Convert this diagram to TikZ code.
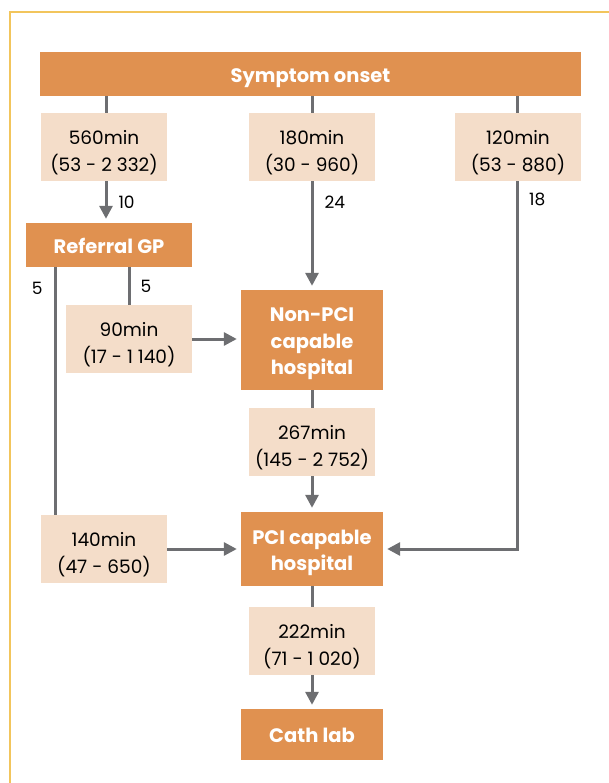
\documentclass[tikz,border=0pt]{standalone}
\usepackage{fontspec}
\setmainfont{Poppins}
\usetikzlibrary{arrows.meta,calc,positioning}
\definecolor{orangebox}{HTML}{E09150}
\definecolor{lightbox}{HTML}{F4DDC9}
\definecolor{linegray}{HTML}{6D6E71}
\definecolor{frameyellow}{HTML}{F2C55C}
\newcommand\boxlines[2]{\raisebox{-#1}[\height][\depth]{\begin{tabular}{@{}c@{}}#2\end{tabular}}}
\newcommand\mtext[1]{\boxlines{3pt}{#1}}
\newcommand\ttext[1]{\boxlines{5.5pt}{#1}}
\tikzset{
  main/.style={fill=orangebox, draw=none, text=white, font=\bfseries\fontsize{19.5}{26.5}\selectfont, inner sep=0pt},
  timebox/.style={fill=lightbox, draw=none, text=black, font=\fontsize{18.5}{26.5}\selectfont, minimum width=126pt, minimum height=68pt, inner sep=0pt},
  conn/.style={draw=linegray, line width=3pt},
  arr/.style={conn, -{Triangle[length=13pt,width=13pt]}, shorten >=4pt},
  cnt/.style={font=\fontsize{17}{19}\selectfont, text=black, inner sep=0pt}
}
\begin{document}
\begin{tikzpicture}[x=1pt,y=-1pt]
\useasboundingbox (0,0) rectangle (609,783);
\begin{scope}
\clip (0,0) rectangle (609,783);
\draw[frameyellow, line width=2pt] (10,800) -- (10,12) -- (620,12);
\end{scope}
% main nodes
\node[main, minimum width=541pt, minimum height=44pt] (onset) at (310.5,74) {\mtext{Symptom onset}};
\node[main, minimum width=166pt, minimum height=44pt] (gp) at (109,245) {\mtext{Referral GP}};
\node[main, minimum width=142pt, minimum height=100pt] (nonpci) at (312,340) {\mtext{Non-PCI\\capable\\hospital}};
\node[main, minimum width=142pt, minimum height=74pt] (pci) at (312,549) {\mtext{PCI capable\\hospital}};
\node[main, minimum width=142pt, minimum height=51pt] (cath) at (312,734.5) {\mtext{Cath lab}};
% time boxes
\node[timebox] (b560) at (104,147) {\ttext{560min\\(53 - 2 332)}};
\node[timebox] (b180) at (312,147) {\ttext{180min\\(30 - 960)}};
\node[timebox] (b120) at (518,147) {\ttext{120min\\(53 - 880)}};
\node[timebox] (b90) at (129,339) {\ttext{90min\\(17 - 1 140)}};
\node[timebox] (b267) at (312,442) {\ttext{267min\\(145 - 2 752)}};
\node[timebox] (b140) at (104,549) {\ttext{140min\\(47 - 650)}};
\node[timebox] (b222) at (312,641) {\ttext{222min\\(71 - 1 020)}};
% coordinates
\coordinate (c560) at ($(b560.north)+(2,0)$);
\coordinate (c120) at ($(b120.north)+(-1,0)$);
\coordinate (gpl) at (55,0);
\coordinate (gpr) at (129,0);
\coordinate (corner) at ($(b120.south)+(-1,0)$);
% connectors
\draw[conn] (c560) -- (c560 |- onset.south);
\draw[conn] (b180.north) -- (b180.north |- onset.south);
\draw[conn] (c120) -- (c120 |- onset.south);
\draw[arr] (c560 |- b560.south) -- (c560 |- gp.north) node[cnt, midway, right=11pt] (n10) {10};
\draw[arr] (b180.south) -- (nonpci.north) node[cnt, pos=0.19, right=11pt] (n24) {24};
\draw[arr] (corner) -- (corner |- pci.east) -- (pci.east);
\node[cnt, below right=12pt and 12pt of corner] (n18) {18};
\draw[conn] (gpl |- gp.south) -- (gpl |- b140.north) node[cnt, pos=0.085, left=11pt] (n5a) {5};
\draw[conn] (gpr |- gp.south) -- (gpr |- b90.north) node[cnt, midway, right=10pt] (n5b) {5};
\draw[arr] (b90.east) -- (b90.east -| nonpci.west);
\draw[conn] (nonpci.south) -- (b267.north);
\draw[arr] (b267.south) -- (pci.north);
\draw[arr] (b140.east) -- (pci.west);
\draw[conn] (pci.south) -- (b222.north);
\draw[arr] (b222.south) -- (cath.north);
\end{tikzpicture}
\end{document}
